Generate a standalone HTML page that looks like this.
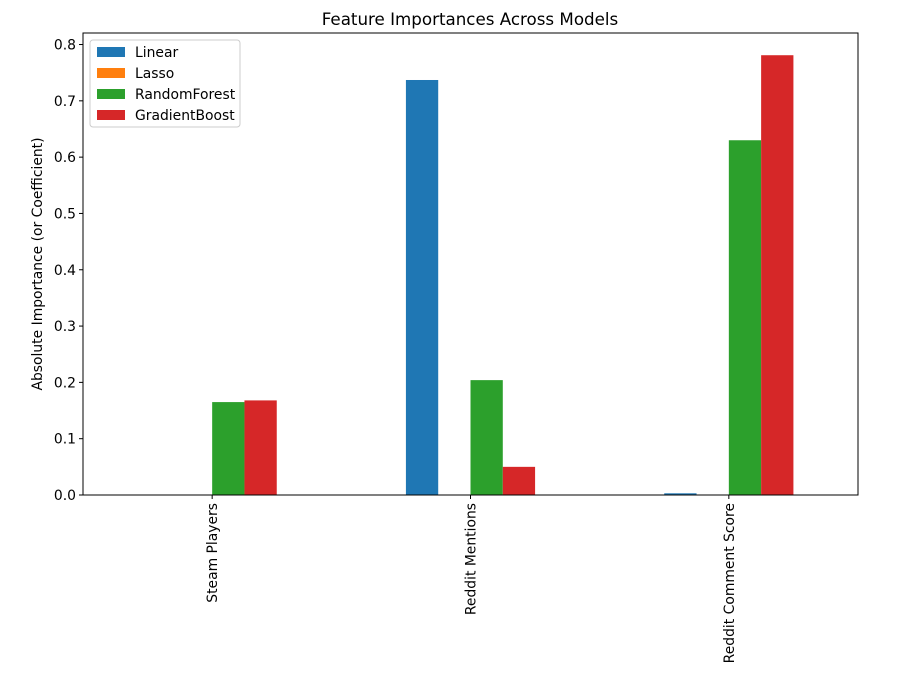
<!DOCTYPE html>
<html><head><meta charset="utf-8"><style>
body{margin:0;background:#fff;}
svg text{font-family:"DejaVu Sans","Liberation Sans",sans-serif;}
</style></head><body>
<svg id="chart" width="912" height="671" xmlns="http://www.w3.org/2000/svg">
<rect width="912" height="671" fill="#fff"/>
<text x="470" y="25" font-size="16.7" text-anchor="middle">Feature Importances Across Models</text>
<g id="bars"></g>
<g id="yaxis"></g>
<g id="xaxis"></g>
<rect x="83" y="33" width="775" height="462" fill="none" stroke="#000" stroke-width="1"/>
<text transform="translate(42,264) rotate(-90)" font-size="13.9" text-anchor="middle">Absolute Importance (or Coefficient)</text>
<g id="legend"></g>
</svg>
<script>
const categories = ["Steam Players","Reddit Mentions","Reddit Comment Score"];
const seriesNames = ["Linear","Lasso","RandomForest","GradientBoost"];
const linearVals = [0.0, 0.737, 0.003];
const lassoVals = [0.0, 0.0, 0.0];
const rfVals = [0.165, 0.204, 0.630];
const gbVals = [0.168, 0.050, 0.781];
const yTicks = [0.0,0.1,0.2,0.3,0.4,0.5,0.6,0.7,0.8];
const colors = ["#1f77b4","#ff7f0e","#2ca02c","#d62728"];
const series = [linearVals, lassoVals, rfVals, gbVals];

const NS="http://www.w3.org/2000/svg";
const L=83,R=858,T=33,B=495;
function y(v){return B - v*563.1;}
function x(u){return L+(u+0.5)*(R-L)/categories.length;}
const unit=(R-L)/categories.length;
function mk(tag,attrs,parent){const e=document.createElementNS(NS,tag);for(const k in attrs)e.setAttribute(k,attrs[k]);parent.appendChild(e);return e;}
const gb=document.getElementById('bars');
series.forEach((vals,s)=>{
  vals.forEach((v,i)=>{
    const bw=unit*0.125;
    const x0=x(i)-unit*0.25+s*bw;
    const r=mk('rect',{x:x0,y:y(v),width:bw,height:B-y(v),fill:colors[s]},gb);
    
    
  });
});
const gy=document.getElementById('yaxis');
yTicks.forEach(t=>{
  const l=mk('line',{x1:L-4,x2:L,y1:y(t),y2:y(t),stroke:'#000'},gy);
  
  
  const tx=mk('text',{x:L-7,y:y(t)+5,'font-size':13.9,'text-anchor':'end'},gy);
  tx.textContent=t.toFixed(1);
  
  
});
const gx=document.getElementById('xaxis');
categories.forEach((c,i)=>{
  const l=mk('line',{x1:x(i),x2:x(i),y1:B,y2:B+4,stroke:'#000'},gx);
  
  
  const tx=mk('text',{transform:`translate(${x(i)+5},${B+8}) rotate(-90)`,'font-size':13.9,'text-anchor':'end'},gx);
  tx.textContent=c;
  
  
});
const lg=document.getElementById('legend');
const box=mk('rect',{x:90,y:40,width:150,height:87,fill:'#fff',stroke:'#ccc',rx:3},lg);


seriesNames.forEach((n,s)=>{
  const yy=52+s*21;
  const p=mk('rect',{x:97,y:yy-5,width:28,height:10,fill:colors[s]},lg);
  
  
  const t=mk('text',{x:135,y:yy+5,'font-size':13.9},lg);
  t.textContent=n;
  
  
});
</script>
</body></html>
